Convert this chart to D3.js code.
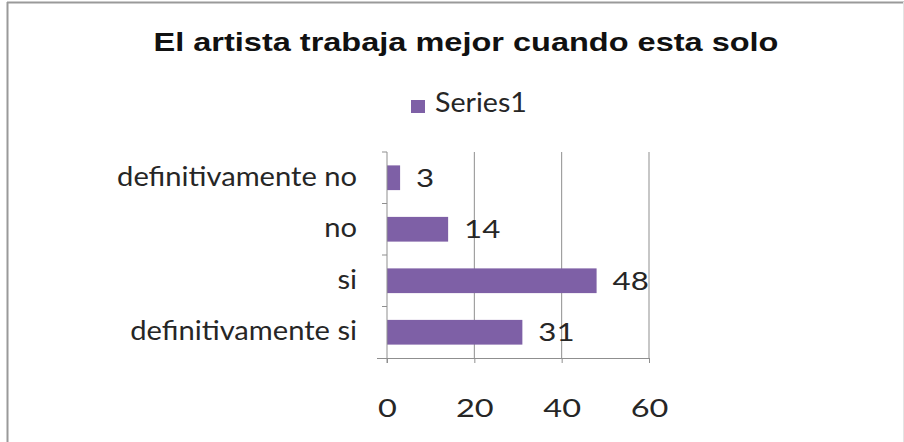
<!DOCTYPE html>
<html><head><meta charset="utf-8">
<script src="https://cdn.jsdelivr.net/npm/d3@7"></script>
<style>body{margin:0;background:#fff}svg{display:block}</style>
</head><body>
<svg id="c" width="904" height="442"></svg>
<script>
const title = "El artista trabaja mejor cuando esta solo";
const seriesName = "Series1";
const categories = ["definitivamente no", "no", "si", "definitivamente si"];
const values = [3, 14, 48, 31];
const xTicks = [0, 20, 40, 60];

(function(){
const svg = d3.select("#c");
const W = 904, H = 442;
const barColor = "#7E60A6";
const gridColor = "#8f8f8f";
const labelFont = "Lato, 'Open Sans', sans-serif";
const txt = "#262626";

function stretch(sel, f){
  sel.each(function(){
    const l = this.getComputedTextLength();
    d3.select(this).attr("textLength", l*f).attr("lengthAdjust","spacingAndGlyphs");
  });
}

// outer frame
svg.append("line").attr("x1",7).attr("x2",W).attr("y1",2.5).attr("y2",2.5).attr("stroke","#9a9a9a").attr("stroke-width",2);
svg.append("line").attr("x1",7.5).attr("x2",7.5).attr("y1",2).attr("y2",H).attr("stroke","#9a9a9a").attr("stroke-width",2);
svg.append("line").attr("x1",903.5).attr("x2",903.5).attr("y1",2).attr("y2",H).attr("stroke","#e4e4e4").attr("stroke-width",1);

const t = svg.append("text").attr("x",466).attr("y",51).attr("text-anchor","middle")
  .attr("font-family","'Liberation Sans', Arial, sans-serif").attr("font-weight","bold")
  .attr("font-size",26).attr("fill","#111").text(title);
stretch(t, 1.25);

// legend
svg.append("rect").attr("x",411).attr("y",100).attr("width",14).attr("height",13).attr("fill",barColor);
const lg = svg.append("text").attr("x",435).attr("y",112).attr("font-family",labelFont)
  .attr("font-size",26).attr("fill",txt).text(seriesName);
stretch(lg, 1.1);

const pl = 387, pr = 649, pt = 152, pb = 358;
const x = d3.scaleLinear().domain([0, 60]).range([pl, pr]);
const y = d3.scaleBand().domain(categories).range([pt, pb]).paddingInner(0.52).paddingOuter(0.26);

// gridlines
svg.append("g").selectAll("line").data(xTicks.filter(d=>d>0)).join("line")
  .attr("x1",d=>x(d)).attr("x2",d=>x(d)).attr("y1",pt).attr("y2",pb)
  .attr("stroke",gridColor).attr("stroke-width",1);

// bars
svg.append("g").selectAll("rect").data(values).join("rect")
  .attr("x",x(0)).attr("y",(d,i)=>y(categories[i]))
  .attr("width",d=>x(d)-x(0)).attr("height",y.bandwidth()).attr("fill",barColor);

// value labels
const vl = svg.append("g").selectAll("text").data(values).join("text")
  .attr("x",d=>x(d)+16).attr("y",(d,i)=>y(categories[i])+y.bandwidth()/2)
  .attr("dy","0.36em").attr("font-family",labelFont).attr("font-size",25).attr("fill",txt)
  .text(d=>d);
stretch(vl, 1.25);

// x axis
const xAxis = d3.axisBottom(x).tickValues(xTicks).tickSize(5).tickPadding(36);
const gx = svg.append("g").attr("transform",`translate(0,${pb})`).call(xAxis);
gx.select(".domain").attr("stroke",gridColor).attr("d",`M${pl-10},0.5H${pr}`);
gx.selectAll(".tick line").attr("stroke",gridColor);
const tl = gx.selectAll(".tick text").attr("font-family",labelFont).attr("font-size",25).attr("fill",txt);
stretch(tl, 1.3);

// y axis (category)
const boundaries = d3.range(categories.length+1).map(i => pt + i*(pb-pt)/categories.length);
const gy = svg.append("g");
gy.append("line").attr("x1",pl).attr("x2",pl).attr("y1",pt).attr("y2",pb+5).attr("stroke",gridColor);
gy.selectAll("line.t").data(boundaries.slice(0,-1)).join("line").attr("class","t")
  .attr("x1",pl-5).attr("x2",pl).attr("y1",d=>d).attr("y2",d=>d).attr("stroke",gridColor);
const cl = gy.selectAll("text").data(categories).join("text")
  .attr("x",357).attr("y",d=>y(d)+y.bandwidth()/2).attr("dy","0.3em").attr("text-anchor","end")
  .attr("font-family",labelFont).attr("font-size",26).attr("fill",txt).text(d=>d);
stretch(cl, 1.12);
})();
</script>
</body></html>
